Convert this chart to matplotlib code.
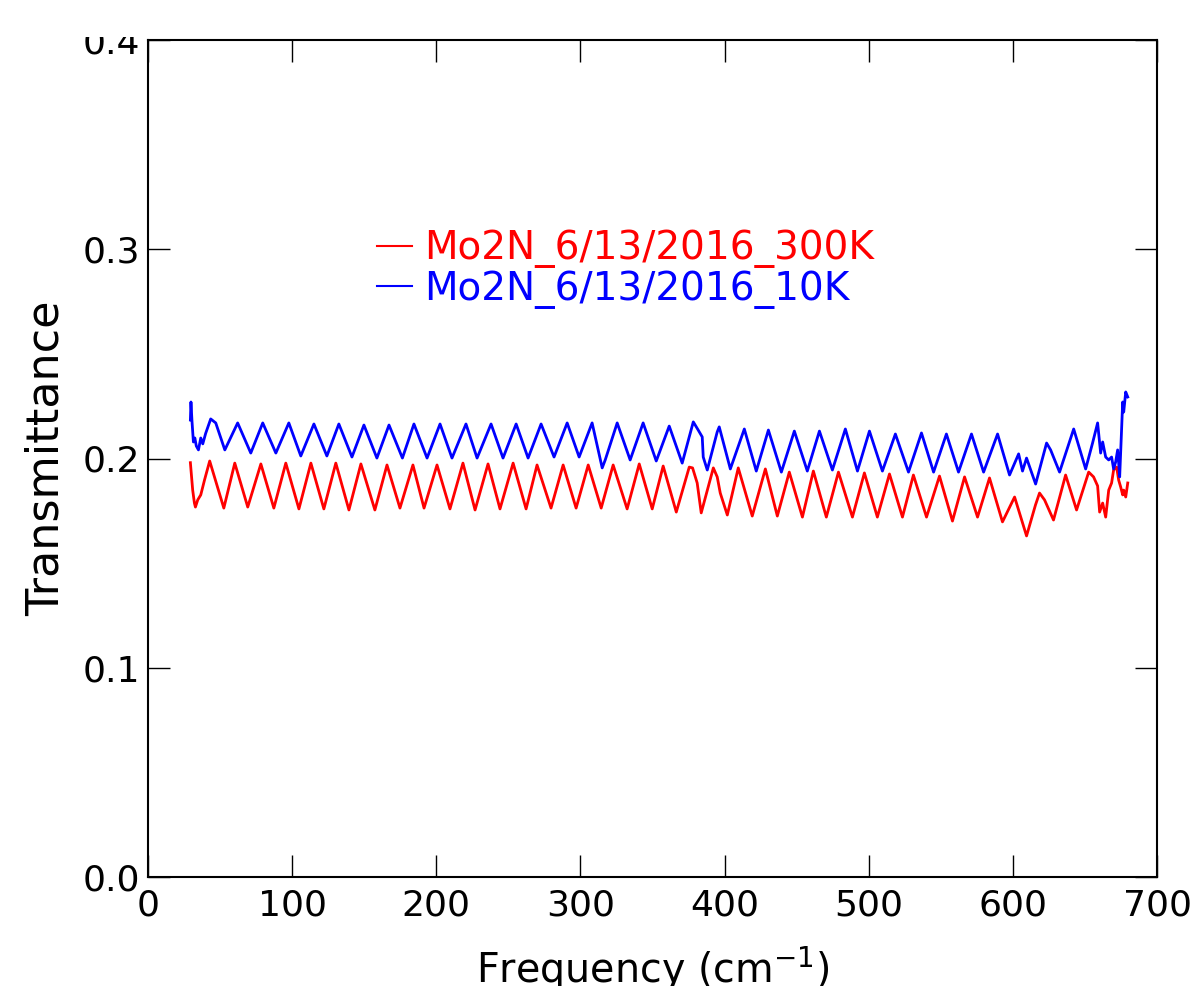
import matplotlib
matplotlib.use('Agg')
import matplotlib.pyplot as plt
from matplotlib.patches import Rectangle

# peaks / troughs (frequency in cm^-1, transmittance)
freq_300k = [29.4, 31.0, 32.2, 32.9, 34.5, 36.6, 39.2, 42.8, 52.6, 60.2, 69.2, 78.3, 87.3, 95.6,
             104.7, 113.0, 122.0, 130.3, 139.4, 147.7, 157.4, 165.8, 174.8, 183.8, 191.5, 200.5,
             209.5, 218.5, 226.9, 235.9, 244.2, 253.3, 262.3, 269.9, 279.6, 288.0, 297.0, 305.4,
             314.4, 322.7, 332.4, 340.8, 349.8, 357.4, 366.5, 375.5, 377.8, 381.0, 383.8, 392.2,
             394.9, 397.0, 401.9, 409.5, 419.2, 428.3, 436.6, 444.9, 454.0, 461.6, 470.6, 479.0,
             488.7, 497.0, 506.0, 514.4, 523.4, 531.0, 540.1, 549.1, 558.1, 566.5, 575.5, 583.8,
             592.8, 601.2, 609.5, 615.7, 618.5, 622.0, 628.2, 636.6, 644.2, 652.6, 656.0, 658.8,
             660.2, 662.3, 664.4, 666.5, 668.5, 669.9, 672.0, 673.4, 674.8, 676.2, 676.9, 678.3,
             679.7]
trans_300k = [0.1980, 0.1849, 0.1787, 0.1768, 0.1802, 0.1826, 0.1897, 0.1988, 0.1763, 0.1978,
              0.1768, 0.1974, 0.1763, 0.1978, 0.1759, 0.1978, 0.1759, 0.1978, 0.1754, 0.1974,
              0.1754, 0.1969, 0.1763, 0.1969, 0.1763, 0.1969, 0.1759, 0.1978, 0.1754, 0.1974,
              0.1759, 0.1978, 0.1759, 0.1969, 0.1763, 0.1969, 0.1763, 0.1969, 0.1763, 0.1969,
              0.1759, 0.1974, 0.1759, 0.1964, 0.1744, 0.1959, 0.1955, 0.1883, 0.1740, 0.1955,
              0.1912, 0.1835, 0.1730, 0.1955, 0.1725, 0.1950, 0.1725, 0.1935, 0.1720, 0.1940,
              0.1720, 0.1935, 0.1720, 0.1931, 0.1720, 0.1926, 0.1720, 0.1921, 0.1720, 0.1916,
              0.1701, 0.1912, 0.1720, 0.1907, 0.1697, 0.1816, 0.1630, 0.1778, 0.1835, 0.1802,
              0.1706, 0.1921, 0.1754, 0.1935, 0.1912, 0.1869, 0.1744, 0.1787, 0.1720, 0.1849,
              0.1883, 0.1945, 0.1959, 0.1897, 0.1864, 0.1826, 0.1849, 0.1816, 0.1883]

freq_10k = [29.4, 29.8, 30.5, 31.5, 32.5, 33.5, 35.0, 36.6, 38.0, 40.0, 43.5, 47.0, 53.3, 62.2,
            71.3, 79.6, 88.7, 97.7, 106.0, 115.1, 124.1, 132.4, 141.5, 149.8, 158.8, 167.2,
            176.5, 184.5, 193.6, 202.6, 210.9, 220.6, 228.3, 238.0, 246.3, 255.4, 263.7, 272.7,
            281.7, 290.8, 299.1, 308.1, 315.1, 317.2, 325.5, 334.5, 343.5, 352.6, 361.6, 370.6,
            378.3, 381.7, 384.5, 385.2, 388.0, 394.9, 396.3, 404.0, 413.7, 422.0, 430.4, 439.4,
            448.4, 457.4, 465.8, 474.8, 483.8, 492.2, 500.5, 509.5, 518.5, 527.6, 536.6, 545.0,
            553.9, 562.3, 571.3, 579.7, 589.4, 597.7, 604.0, 606.7, 609.5, 615.8, 623.4, 626.2,
            632.4, 642.2, 650.5, 655.3, 658.8, 660.9, 662.3, 664.4, 666.5, 668.5, 669.9, 671.3,
            672.7, 673.4, 674.1, 676.2, 676.9, 678.3, 679.7]
trans_10k = [0.2184, 0.2270, 0.2180, 0.2079, 0.2098, 0.2060, 0.2041, 0.2098, 0.2070, 0.2120,
             0.2189, 0.2170, 0.2041, 0.2170, 0.2026, 0.2170, 0.2026, 0.2170, 0.2012, 0.2165,
             0.2012, 0.2165, 0.2007, 0.2160, 0.2002, 0.2160, 0.2002, 0.2165, 0.2002, 0.2165,
             0.2002, 0.2165, 0.2002, 0.2165, 0.2002, 0.2165, 0.2002, 0.2165, 0.2007, 0.2170,
             0.2007, 0.2170, 0.1955, 0.1993, 0.2170, 0.1993, 0.2170, 0.1988, 0.2155, 0.1978,
             0.2175, 0.2136, 0.2103, 0.2007, 0.1945, 0.2127, 0.2151, 0.1950, 0.2141, 0.1940,
             0.2136, 0.1935, 0.2131, 0.1940, 0.2131, 0.1945, 0.2141, 0.1940, 0.2131, 0.1940,
             0.2117, 0.1935, 0.2122, 0.1935, 0.2117, 0.1935, 0.2117, 0.1935, 0.2117, 0.1921,
             0.2022, 0.1940, 0.2002, 0.1878, 0.2074, 0.2041, 0.1935, 0.2141, 0.1950, 0.2074,
             0.2170, 0.2026, 0.2079, 0.2007, 0.1993, 0.2007, 0.1950, 0.1983, 0.2041, 0.1978,
             0.1912, 0.2270, 0.2222, 0.2318, 0.2294]

labels = ['Mo2N_6/13/2016_300K', 'Mo2N_6/13/2016_10K']
yticks = [0.0, 0.1, 0.2, 0.3, 0.4]
xticks = [0, 100, 200, 300, 400, 500, 600, 700]

fig = plt.figure(figsize=(11.97, 9.86), dpi=100, facecolor='white')
ax = fig.add_axes([148/1197, 1 - 877/986, 1009/1197, 837/986])

ax.plot(freq_300k, trans_300k, color='red', lw=2, solid_joinstyle='round', label=labels[0])
ax.plot(freq_10k, trans_10k, color='blue', lw=2, solid_joinstyle='round', label=labels[1])

ax.set_xlim(0, 700)
ax.set_ylim(0, 0.4)
ax.set_xticks(xticks)
ax.set_yticks(yticks)
ax.set_yticklabels(['%.1f' % v for v in yticks])
ax.tick_params(direction='in', length=16, width=1, top=True, right=True, labelsize=26)
ax.tick_params(axis='x', pad=8)
ax.tick_params(axis='y', pad=6)
for sp in ax.spines.values():
    sp.set_linewidth(1.5)

ax.set_xlabel(r'Frequency (cm$^{-1}$)', fontsize=28.5)
ax.set_ylabel('Transmittance', fontsize=32)
ax.xaxis.set_label_coords(0.5, -0.081)
ax.yaxis.set_label_coords(-0.08, 0.5)

leg = ax.legend(loc='upper left', bbox_to_anchor=(0.227, 0.774), frameon=False, fontsize=28,
                handlelength=0.9, handletextpad=0.3, labelspacing=0.05,
                borderpad=0, borderaxespad=0)
for txt, line in zip(leg.get_texts(), leg.get_lines()):
    txt.set_color(line.get_color())
    line.set_linewidth(1.5)

# the reference is cropped just above the axes, cutting the top tick label
fig.patches.append(Rectangle((0, 1 - 37/986), 1, 37/986, transform=fig.transFigure,
                             facecolor='white', edgecolor='none', zorder=10))

fig.savefig('out.png', dpi=100, facecolor='white')
